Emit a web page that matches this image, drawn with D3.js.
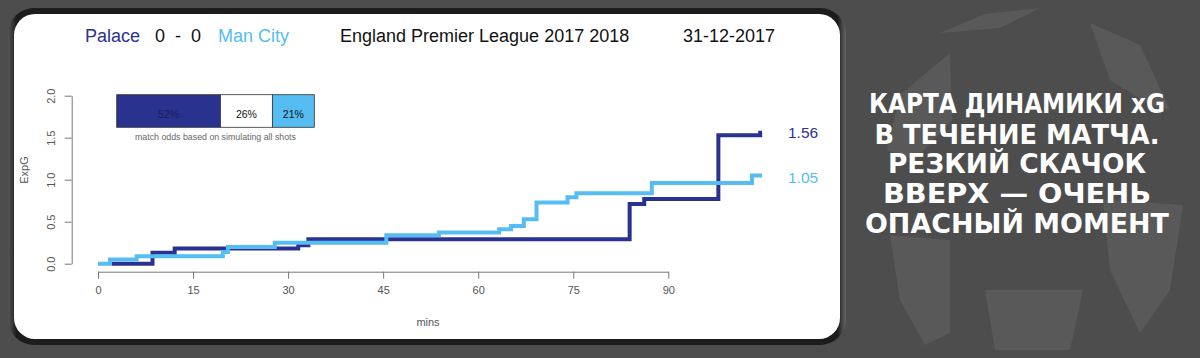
<!DOCTYPE html>
<html><head><meta charset="utf-8">
<script src="https://cdnjs.cloudflare.com/ajax/libs/d3/7.8.5/d3.min.js"></script>
<style>html,body{margin:0;padding:0;background:#4d4d4d;}svg{display:block;}</style>
</head><body>
<svg id="c" width="1200" height="358"></svg>
<script>
// ---- data ----
const homeTeam = "Palace", awayTeam = "Man City", score = "0  -  0";
const league = "England Premier League 2017 2018", matchDate = "31-12-2017";
const homeMins = [2.2, 8.6, 12.1, 31.6, 33.2, 83.9, 86.2, 97.9, 104.5, 104.8];
const homeXG   = [0, 0.13, 0.18, 0.22, 0.29, 0.71, 0.77, 1.53, 1.56, 1.56];
const awayMins = [0, 1.9, 6.1, 19.7, 20.5, 27.9, 45.5, 53.8, 63.3, 65.2, 67.2, 69.2, 74.1, 75.5, 87.4, 103.2, 104.8];
const awayXG   = [0, 0.05, 0.09, 0.14, 0.20, 0.25, 0.34, 0.37, 0.41, 0.45, 0.53, 0.73, 0.79, 0.84, 0.96, 1.05, 1.05];
const xTicks = [0, 15, 30, 45, 60, 75, 90];
const yTicks = [0, 0.5, 1.0, 1.5, 2.0];
const oddsLabels = ["52%", "26%", "21%"];
const oddsValues = [52, 26, 21];
const caption = "match odds based on simulating all shots";
const sideText = ["КАРТА ДИНАМИКИ xG", "В ТЕЧЕНИЕ МАТЧА.", "РЕЗКИЙ СКАЧОК", "ВВЕРХ — ОЧЕНЬ", "ОПАСНЫЙ МОМЕНТ"];

const dark = "#2a3290", light = "#56bdf2";
const svg = d3.select("#c");
const FONT = "'Liberation Sans', Arial, sans-serif";

// background ball patches
const bg = svg.append("g");
bg.append("rect").attr("width",1200).attr("height",358).attr("fill","#4d4d4d");
const patches = [
  [[940,33],[985,14],[1040,8],[1000,28]],
  [[887,150],[900,95],[950,53],[952,120],[915,160]],
  [[1090,23],[1140,45],[1170,110],[1150,105],[1110,80]],
  [[890,235],[950,240],[950,333],[925,345],[900,300]],
  [[1103,200],[1183,205],[1170,290],[1140,333],[1110,270]],
  [[985,290],[1083,290],[1070,350],[995,350]]
];
bg.selectAll("polygon").data(patches).join("polygon")
  .attr("points", d => d.map(p => p.join(",")).join(" "))
  .attr("fill", "rgba(255,255,255,0.07)");

// panel
const lg = svg.append("defs").append("linearGradient").attr("id","edge").attr("x1",0).attr("x2",1);
lg.append("stop").attr("offset","0").attr("stop-color","#555");
lg.append("stop").attr("offset","0.01").attr("stop-color","#1c1c1c");
lg.append("stop").attr("offset","0.99").attr("stop-color","#1c1c1c");
lg.append("stop").attr("offset","1").attr("stop-color","#666");
svg.append("rect").attr("x",8).attr("y",8).attr("width",838).attr("height",337).attr("rx",26).attr("fill","url(#edge)");
svg.append("rect").attr("x",14).attr("y",14).attr("width",826).attr("height",325).attr("rx",21).attr("fill","#fff");

// scales
const x = d3.scaleLinear().domain([0, 90]).range([98, 668.3]);
const y = d3.scaleLinear().domain([0, 2]).range([263.7, 95.7]);

// title
const t = svg.append("g").attr("font-family", FONT).attr("font-size", 18);
t.append("text").attr("x",85).attr("y",42).attr("fill",dark).text(homeTeam);
t.append("text").attr("x",155).attr("y",42).attr("fill","#111").attr("xml:space","preserve").style("white-space","pre").text(score);
t.append("text").attr("x",218).attr("y",42).attr("fill",light).text(awayTeam);
t.append("text").attr("x",340).attr("y",42).attr("fill","#111").text(league);
t.append("text").attr("x",683).attr("y",42).attr("fill","#111").text(matchDate);

// axes
const axCol = "#777";
const xa = svg.append("g").attr("transform","translate(0,271.7)")
  .call(d3.axisBottom(x).tickValues(xTicks).tickSize(7).tickSizeOuter(0).tickPadding(8).tickFormat(d3.format("d")));
const ya = svg.append("g").attr("transform","translate(71.7,0)")
  .call(d3.axisLeft(y).tickValues(yTicks).tickSize(7).tickSizeOuter(0).tickPadding(9).tickFormat(d3.format(".1f")));
[xa, ya].forEach(a => {
  a.select(".domain").attr("stroke", axCol);
  a.selectAll(".tick line").attr("stroke", axCol);
  a.selectAll(".tick text").attr("fill","#555").attr("font-family",FONT).attr("font-size",11);
});
ya.selectAll(".tick text").attr("text-anchor","middle")
  .attr("transform", function(){ return "translate(-4,0) rotate(-90," + d3.select(this).attr("x") + ",0)"; })
  .attr("dy","0.32em");
ya.selectAll(".tick text").each(function(){
  const tx = d3.select(this); const xx = +tx.attr("x") - 4;
  tx.attr("transform", `rotate(-90)`).attr("x", 0).attr("y", xx).attr("dy","0.32em").attr("transform", null)
    .attr("transform", `translate(${xx},0) rotate(-90)`).attr("y", 0);
});

svg.append("text").attr("transform","translate(28,170) rotate(-90)").attr("text-anchor","middle")
  .attr("font-family",FONT).attr("font-size",11).attr("fill","#555").text("ExpG");
svg.append("text").attr("x",428).attr("y",326).attr("text-anchor","middle")
  .attr("font-family",FONT).attr("font-size",11).attr("fill","#555").text("mins");

// odds bar
const ob = d3.scaleLinear().domain([0, d3.sum(oddsValues)]).range([116.7, 314.3]);
let cum = 0;
const segs = oddsValues.map((v,i) => { const s = {x0: cum, x1: cum + v, label: oddsLabels[i], i}; cum += v; return s; });
const segFill = [dark, "#fff", light];
svg.selectAll("rect.odds").data(segs).join("rect").attr("class","odds")
  .attr("x", d => ob(d.x0)).attr("width", d => ob(d.x1) - ob(d.x0))
  .attr("y", 94.7).attr("height", 32.6).attr("fill", d => segFill[d.i]).attr("stroke","#333").attr("stroke-width",0.8);
svg.selectAll("text.odds").data(segs).join("text").attr("class","odds")
  .attr("x", d => (ob(d.x0) + ob(d.x1)) / 2).attr("y", 117.5).attr("text-anchor","middle")
  .attr("font-family",FONT).attr("font-size",10.5).attr("fill", d => d.i === 0 ? "#1a1f55" : "#111").text(d => d.label);
svg.append("text").attr("x",215.5).attr("y",140).attr("text-anchor","middle")
  .attr("font-family",FONT).attr("font-size",8.8).attr("fill","#666").text(caption);

// lines
const line = d3.line().x(d => x(d[0])).y(d => y(d[1])).curve(d3.curveStepAfter);
const homeData = d3.zip(homeMins, homeXG), awayData = d3.zip(awayMins, awayXG);
svg.append("path").attr("d", line(homeData)).attr("fill","none").attr("stroke",dark).attr("stroke-width",4);
svg.append("path").attr("d", line(awayData)).attr("fill","none").attr("stroke",light).attr("stroke-width",4);

// end labels
svg.append("text").attr("x",788).attr("y",y(homeXG[homeXG.length-1]) + 5.8)
  .attr("font-family",FONT).attr("font-size",15.5).attr("fill",dark).text(d3.format(".2f")(homeXG[homeXG.length-1]));
svg.append("text").attr("x",788).attr("y",y(awayXG[awayXG.length-1]) + 5.8 + 1.2)
  .attr("font-family",FONT).attr("font-size",15.5).attr("fill",light).text(d3.format(".2f")(awayXG[awayXG.length-1]));

// side text
const widths = [296, 285, 258, 268, 304];
const ys = [113, 144, 173, 203, 233];
svg.selectAll("text.side").data(sideText).join("text").attr("class","side")
  .attr("x", 1017).attr("y", (d,i) => ys[i]).attr("text-anchor","middle")
  .attr("font-family","'DejaVu Sans Condensed','DejaVu Sans',sans-serif").attr("font-weight","bold")
  .attr("font-size", 27).attr("fill","#fff")
  .attr("textLength", (d,i) => widths[i]).attr("lengthAdjust","spacingAndGlyphs")
  .text(d => d);
</script>
</body></html>
